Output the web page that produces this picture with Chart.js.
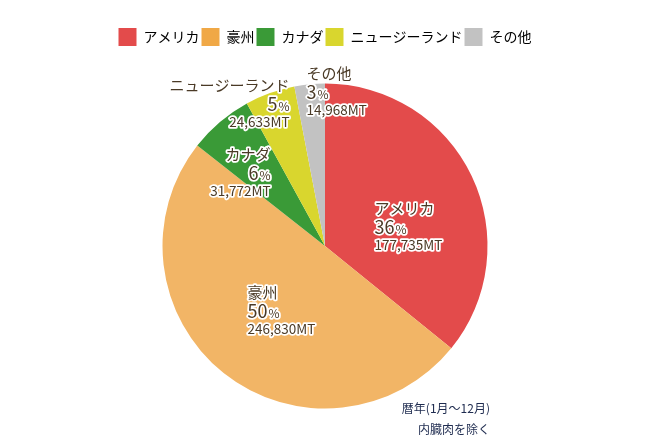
<!DOCTYPE html>
<html lang="ja">
<head>
    <meta charset="UTF-8">
    <title>牛肉輸入量</title>
    <script src="https://cdn.jsdelivr.net/npm/chart.js"></script>
<style>
        html, body {
            margin: 0;
            padding: 0;
            background-color: #ffffff;
        }
        .wrap {
            position: relative;
            width: 650px;
            height: 440px;
        }
    </style>
</head>
<body>
    <div class="wrap">
        <canvas id="chart"></canvas>
    </div>

    <script>
        // データ
        const categories = ["アメリカ", "豪州", "カナダ", "ニュージーランド", "その他"];
        const volumes = [177735, 246830, 31772, 24633, 14968];
        const unit = "MT";
        const notes = ["暦年(1月〜12月)", "内臓肉を除く"];

        const sliceColors = ["#e34b4b", "#f2b566", "#3a9a37", "#d9d62e", "#c2c2c2"];
        const legendColors = ["#e34b4b", "#f0a846", "#3a9a37", "#d9d62e", "#c2c2c2"];

        // ラベル位置 (円の中心からの半径比) と揃え
        const labelPos = [
            { dx: 0.305, dy: -0.194, align: 'left' },
            { dx: -0.477, dy: 0.317, align: 'left' },
            { dx: -0.335, dy: -0.532, align: 'right' },
            { dx: -0.218, dy: -0.951, align: 'right' },
            { dx: -0.114, dy: -1.025, align: 'left' }
        ];

        const fontFamily = '"Noto Sans CJK JP", "Noto Sans", sans-serif';
        const total = volumes.reduce((a, b) => a + b, 0);

        function drawText(ctx, text, x, y, font) {
            ctx.font = font;
            ctx.strokeText(text, x, y);
            ctx.fillText(text, x, y);
        }

        const sliceLabels = {
            id: 'sliceLabels',
            afterDatasetsDraw(chart) {
                const ctx = chart.ctx;
                const arcs = chart.getDatasetMeta(0).data;
                ctx.save();
                ctx.textBaseline = 'alphabetic';
                ctx.lineJoin = 'round';
                ctx.lineWidth = 3.5;
                ctx.strokeStyle = '#ffffff';
                ctx.fillStyle = '#4a3a26';
                arcs.forEach((arc, i) => {
                    const r = arc.outerRadius;
                    const p = labelPos[i];
                    const x = arc.x + p.dx * r;
                    const y = arc.y + p.dy * r;
                    const right = p.align === 'right';
                    ctx.textAlign = p.align;

                    drawText(ctx, categories[i], x, y, '15px ' + fontFamily);

                    // パーセント
                    const num = String(Math.round(volumes[i] / total * 100));
                    const numFont = '18px ' + fontFamily;
                    const pctFont = '12px ' + fontFamily;
                    ctx.font = numFont;
                    const wNum = ctx.measureText(num).width;
                    ctx.font = pctFont;
                    const wPct = ctx.measureText('%').width;
                    ctx.textAlign = 'left';
                    const sx = right ? x - wNum - wPct - 1 : x;
                    drawText(ctx, num, sx, y + 20, numFont);
                    drawText(ctx, '%', sx + wNum + 1, y + 20, pctFont);
                    ctx.textAlign = p.align;

                    const val = volumes[i].toLocaleString('en-US') + unit;
                    drawText(ctx, val, x, y + 36, '13.5px ' + fontFamily);
                });

                // 注記
                const a0 = arcs[0];
                ctx.textAlign = 'right';
                ctx.fillStyle = '#1e2b4f';
                ctx.font = '12px ' + fontFamily;
                ctx.fillText(notes[0], a0.x + a0.outerRadius * 1.015, a0.y + a0.outerRadius * 1.03);
                ctx.fillText(notes[1], a0.x + a0.outerRadius * 1.015, a0.y + a0.outerRadius * 1.03 + 21);
                ctx.restore();
            }
        };

        const chart = new Chart(document.getElementById('chart').getContext('2d'), {
            type: 'pie',
            data: {
                labels: categories,
                datasets: [{
                    data: volumes,
                    backgroundColor: sliceColors,
                    borderWidth: 0,
                    hoverOffset: 0
                }]
            },
            options: {
                responsive: true,
                maintainAspectRatio: false,
                animation: false,
                radius: 162.5,
                layout: {
                    padding: { top: 26, bottom: 4, left: 0, right: 0 }
                },
                plugins: {
                    legend: {
                        position: 'top',
                        labels: {
                            boxWidth: 18,
                            boxHeight: 18,
                            padding: 2,
                            color: '#333333',
                            font: { family: fontFamily, size: 14 },
                            generateLabels: (c) => categories.map((name, i) => ({
                                text: name,
                                fillStyle: legendColors[i],
                                strokeStyle: legendColors[i],
                                lineWidth: 0,
                                hidden: false,
                                index: i
                            }))
                        }
                    },
                    tooltip: { enabled: false }
                }
            },
            plugins: [sliceLabels]
        });
    </script>
</body>
</html>
